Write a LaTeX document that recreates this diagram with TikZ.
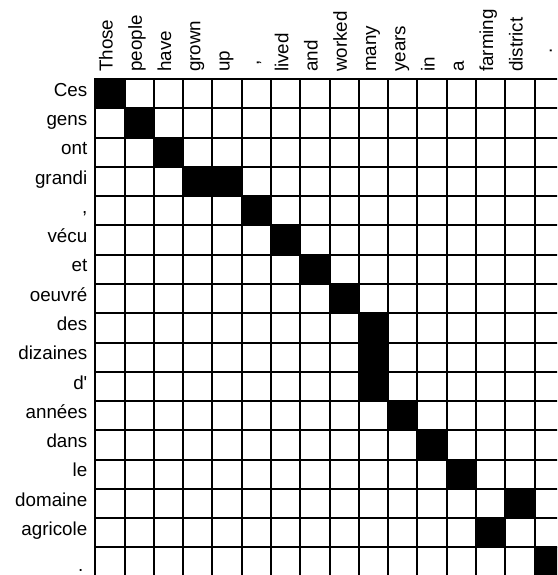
\documentclass[tikz,border=0pt]{standalone}
\usepackage{fontspec}
\setmainfont{Liberation Sans}
\begin{document}
\begin{tikzpicture}[x=1pt,y=-1pt,
  lbl/.style={inner sep=0pt, font=\fontsize{18.8}{22}\selectfont},
  rowlbl/.style={lbl, anchor=mid east},
  collbl/.style={lbl, rotate=90, anchor=mid west},
  gridline/.style={line width=2pt, black, line cap=rect}]
\clip (0,0) rectangle (557,575);
\def\cs{29.28}
\def\gx{95.3}
\def\gy{79}
% filled cells
\foreach \r/\c in {0/0,1/1,2/2,3/3,3/4,4/5,5/6,6/7,7/8,8/9,9/9,10/9,11/10,12/11,13/12,14/14,15/13,16/15}
  \fill[black] (\gx+\c*\cs, \gy+\r*\cs) rectangle ++(\cs,\cs);
% grid
\foreach \i in {0,...,16}
  \draw[gridline] (\gx+\i*\cs, \gy) -- (\gx+\i*\cs, \gy+17*\cs);
\foreach \j in {0,...,17}
  \draw[gridline] (\gx, \gy+\j*\cs) -- (\gx+16*\cs, \gy+\j*\cs);
% row labels
\foreach \t [count=\i from 0] in {Ces,gens,ont,grandi,{,},vécu,et,oeuvré,des,dizaines,d\textquotesingle,années,dans,le,domaine,agricole}
  \node[rowlbl] (r\i) at (87.5, \gy+\i*\cs+0.5*\cs) {\t};
\node[lbl, anchor=base east] (r16) at (83.5, 571.5) {.};
% column labels
\foreach \t/\i in {Those/0,people/1,have/2,grown/3,up/4,lived/6,and/7,worked/8,many/9,years/10,in/11,a/12,farming/13,district/14}
  \node[collbl] (c\i) at (\gx+\i*\cs+0.5*\cs, 72) {\t};
\node[collbl] (c5) at (\gx+5.5*\cs, 65.6) {,};
\node[collbl] (c15) at (\gx+15.5*\cs, 53.3) {.};
\end{tikzpicture}
\end{document}
